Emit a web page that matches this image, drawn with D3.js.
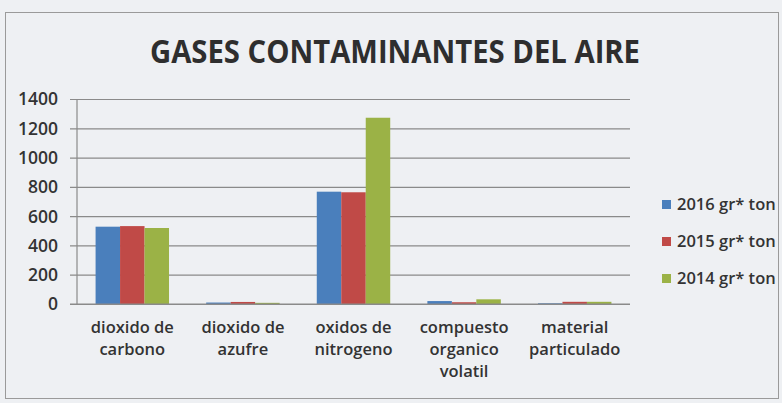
<!DOCTYPE html>
<html><head><meta charset="utf-8">
<script src="https://cdn.jsdelivr.net/npm/d3@7"></script>
<style>html,body{margin:0;padding:0;background:#eef0f3;}svg{display:block;}</style>
</head><body>
<script>
const categories = [["dioxido de","carbono"],["dioxido de","azufre"],["oxidos de","nitrogeno"],["compuesto","organico","volatil"],["material","particulado"]];
const seriesNames = ["2016 gr* ton","2015 gr* ton","2014 gr* ton"];
const v2016 = [528, 10, 767, 20, 5];
const v2015 = [532, 14, 763, 12, 15];
const v2014 = [519, 8, 1272, 32, 15];
const yTicks = [0,200,400,600,800,1000,1200,1400];
const colors = ["#4a7fbc","#c04a47","#9bb246"];

const W=782,H=403;
const svg=d3.select("body").append("svg").attr("width",W).attr("height",H);
svg.append("rect").attr("width",W).attr("height",H).attr("fill","#eef0f3");
svg.append("rect").attr("x",5.5).attr("y",12.5).attr("width",773).attr("height",386).attr("fill","none").attr("stroke","#9a9a9a").attr("stroke-width",1);

const font="'Open Sans', sans-serif";
svg.append("text").attr("x",395).attr("y",63).attr("text-anchor","middle")
  .attr("font-family",font).attr("font-weight","bold").attr("font-size",32)
  .attr("fill","#2e2e2e").attr("textLength",490).attr("lengthAdjust","spacingAndGlyphs")
  .text("GASES CONTAMINANTES DEL AIRE");

const x0v=77,x1v=630,y0v=304,y1v=99;
const y=d3.scaleLinear().domain([0,1400]).range([y0v,y1v]);
const keys=categories.map(c=>c.join(" "));
const x=d3.scaleBand().domain(keys).range([x0v,x1v]).padding(0);
const xs=d3.scaleBand().domain(seriesNames).range([x.bandwidth()*0.168,x.bandwidth()*0.832]).padding(0);

const gAxis=svg.append("g").attr("transform",`translate(${x0v},0)`)
  .call(d3.axisLeft(y).tickValues(yTicks).tickSize(-(x1v-x0v)).tickPadding(19).tickFormat(d3.format("d")));
gAxis.select(".domain").remove();
gAxis.selectAll(".tick line").attr("stroke","#8a8a8a").attr("stroke-width",1.2).attr("x1",-7);
gAxis.selectAll(".tick text").attr("font-family",font).attr("font-weight",600).attr("font-size",17.5).attr("fill","#333").attr("dy","0.34em");
svg.append("line").attr("x1",x0v).attr("x2",x0v).attr("y1",y1v).attr("y2",y0v).attr("stroke","#8a8a8a").attr("stroke-width",1.2);

const data=[v2016,v2015,v2014];
const groups=svg.append("g");
keys.forEach((k,i)=>{
  seriesNames.forEach((s,j)=>{
    groups.append("rect").attr("x",x(k)+xs(s)).attr("width",xs.bandwidth())
      .attr("y",y(data[j][i])).attr("height",y(0)-y(data[j][i])).attr("fill",colors[j]);
  });
});
svg.append("line").attr("x1",x0v-7).attr("x2",x1v).attr("y1",y0v).attr("y2",y0v).attr("stroke","#8a8a8a").attr("stroke-width",1.2);

categories.forEach((c,i)=>{
  const t=svg.append("text").attr("text-anchor","middle").attr("font-family",font).attr("font-weight",600).attr("font-size",16.5).attr("fill","#333");
  c.forEach((line,li)=>{
    t.append("tspan").attr("x",x(keys[i])+x.bandwidth()/2).attr("y",333+li*22).text(line);
  });
});

seriesNames.forEach((s,j)=>{
  const yy=204+j*37;
  svg.append("rect").attr("x",662).attr("y",yy-4).attr("width",9).attr("height",9).attr("fill",colors[j]);
  svg.append("text").attr("x",677).attr("y",yy).attr("dy","0.36em").attr("font-family",font).attr("font-weight",600).attr("font-size",16.5).attr("fill","#333").text(s);
});
</script>
</body></html>
